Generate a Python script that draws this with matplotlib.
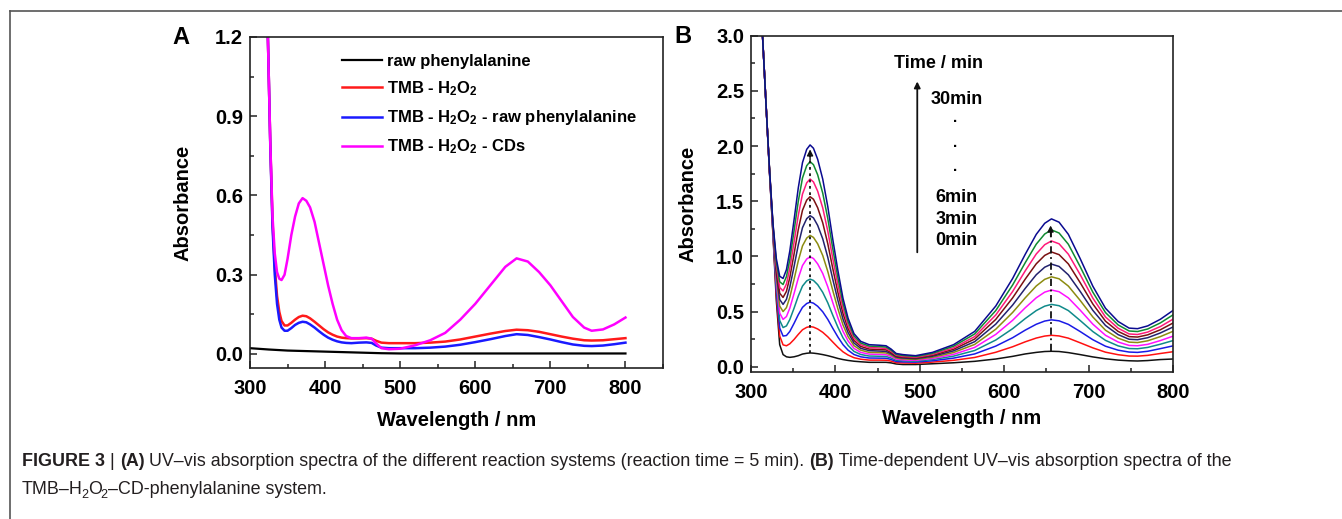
import matplotlib
matplotlib.use("Agg")
import matplotlib.pyplot as plt
from matplotlib.ticker import MultipleLocator, FormatStrFormatter
from matplotlib.lines import Line2D

# ---------------- data : panel A ----------------
WL_A = [323, 325, 327, 330, 333, 336, 339, 342, 346, 350, 355, 360, 365, 370, 375, 380,
        386, 392, 398, 404, 410, 416, 422, 428, 435, 445, 455, 462, 468, 475, 485, 500,
        520, 540, 560, 580, 600, 620, 640, 655, 670, 685, 700, 715, 730, 745, 755, 770,
        785, 800]
A_TMB_H2O2 = [1.3, 1.05, 0.80, 0.50, 0.33, 0.22, 0.16, 0.125, 0.108, 0.108, 0.118, 0.13,
              0.14, 0.145, 0.143, 0.135, 0.122, 0.108, 0.094, 0.082, 0.073, 0.066, 0.062,
              0.06, 0.059, 0.059, 0.06, 0.058, 0.05, 0.043, 0.041, 0.041, 0.041, 0.043,
              0.047, 0.055, 0.066, 0.077, 0.087, 0.092, 0.09, 0.084, 0.075, 0.066, 0.058,
              0.052, 0.051, 0.052, 0.056, 0.06]
A_TMB_H2O2_RAW = [1.3, 1.05, 0.79, 0.48, 0.30, 0.19, 0.13, 0.10, 0.088, 0.088, 0.098, 0.11,
                  0.118, 0.122, 0.12, 0.112, 0.10, 0.086, 0.073, 0.062, 0.054, 0.048, 0.044,
                  0.042, 0.041, 0.043, 0.044, 0.042, 0.032, 0.024, 0.022, 0.022, 0.022,
                  0.024, 0.028, 0.035, 0.045, 0.056, 0.068, 0.075, 0.072, 0.064, 0.055,
                  0.045, 0.036, 0.031, 0.03, 0.032, 0.037, 0.043]
A_TMB_H2O2_CDS = [1.3, 1.05, 0.80, 0.52, 0.38, 0.31, 0.285, 0.28, 0.30, 0.36, 0.45, 0.52,
                  0.57, 0.59, 0.58, 0.555, 0.50, 0.42, 0.34, 0.26, 0.19, 0.13, 0.09, 0.068,
                  0.06, 0.06, 0.062, 0.058, 0.04, 0.022, 0.018, 0.02, 0.033, 0.052, 0.08,
                  0.13, 0.19, 0.26, 0.33, 0.362, 0.35, 0.31, 0.26, 0.20, 0.14, 0.10, 0.088,
                  0.093, 0.112, 0.138]
WL_A_RAW = [300, 325, 350, 375, 400, 425, 450, 475, 500, 550, 600, 650, 700, 750, 800]
A_RAW = [0.022, 0.017, 0.013, 0.011, 0.009, 0.007, 0.005, 0.003, 0.002, 0.002, 0.002,
         0.002, 0.002, 0.002, 0.002]
LEGEND_A = ["raw phenylalanine", "TMB - H$_2$O$_2$",
            "TMB - H$_2$O$_2$ - raw phenylalanine", "TMB - H$_2$O$_2$ - CDs"]

# ---------------- data : panel B (0 min ... 30 min) ----------------
WL_B = [313, 318, 322, 326, 330, 334, 338, 342, 346, 351, 356, 361, 366, 370, 374, 379,
        385, 391, 397, 403, 409, 415, 422, 430, 440, 452, 460, 466, 472, 480, 495, 515,
        540, 565, 590, 610, 625, 638, 648, 656, 665, 676, 690, 705, 720, 735, 748, 758,
        770, 785, 800]
B_T0 = [3.1, 2.35, 1.75, 1.2, 0.6, 0.2, 0.11, 0.09, 0.085, 0.09, 0.10, 0.115, 0.122, 0.125,
        0.123, 0.118, 0.11, 0.10, 0.088, 0.075, 0.065, 0.057, 0.05, 0.045, 0.04, 0.04, 0.04,
        0.035, 0.025, 0.02, 0.02, 0.027, 0.036, 0.049, 0.070, 0.094, 0.116, 0.130, 0.138,
        0.14, 0.138, 0.128, 0.110, 0.089, 0.072, 0.060, 0.054, 0.052, 0.056, 0.065, 0.07]
B_T1 = [3.1, 2.35, 1.754, 1.213, 0.648, 0.279, 0.198, 0.190, 0.208, 0.247, 0.293, 0.335,
        0.357, 0.364, 0.359, 0.342, 0.312, 0.271, 0.223, 0.176, 0.135, 0.106, 0.082, 0.068,
        0.060, 0.060, 0.059, 0.051, 0.037, 0.034, 0.032, 0.042, 0.058, 0.084, 0.131, 0.181,
        0.226, 0.260, 0.278, 0.285, 0.279, 0.259, 0.217, 0.171, 0.132, 0.109, 0.097, 0.096,
        0.103, 0.120, 0.136]
B_T2 = [3.1, 2.35, 1.757, 1.224, 0.693, 0.351, 0.278, 0.283, 0.320, 0.393, 0.471, 0.538,
        0.573, 0.585, 0.576, 0.548, 0.498, 0.429, 0.347, 0.269, 0.200, 0.150, 0.111, 0.090,
        0.079, 0.078, 0.077, 0.066, 0.048, 0.044, 0.042, 0.054, 0.078, 0.116, 0.187, 0.263,
        0.332, 0.385, 0.414, 0.425, 0.416, 0.384, 0.319, 0.245, 0.186, 0.150, 0.133, 0.130,
        0.140, 0.164, 0.189]
B_T3 = [3.1, 2.35, 1.761, 1.236, 0.735, 0.420, 0.355, 0.370, 0.428, 0.530, 0.640, 0.731,
        0.778, 0.794, 0.782, 0.744, 0.674, 0.579, 0.465, 0.357, 0.262, 0.193, 0.139, 0.111,
        0.097, 0.095, 0.093, 0.079, 0.059, 0.054, 0.050, 0.065, 0.096, 0.147, 0.242, 0.345,
        0.437, 0.509, 0.549, 0.565, 0.553, 0.509, 0.419, 0.319, 0.239, 0.189, 0.165, 0.163,
        0.175, 0.204, 0.237]
B_T4 = [3.1, 2.35, 1.764, 1.246, 0.776, 0.486, 0.429, 0.455, 0.531, 0.663, 0.802, 0.917,
        0.976, 0.996, 0.981, 0.932, 0.845, 0.724, 0.579, 0.442, 0.321, 0.234, 0.166, 0.130,
        0.114, 0.112, 0.109, 0.093, 0.069, 0.062, 0.058, 0.075, 0.112, 0.175, 0.293, 0.421,
        0.535, 0.625, 0.676, 0.695, 0.680, 0.624, 0.513, 0.386, 0.285, 0.224, 0.193, 0.190,
        0.203, 0.237, 0.277]
B_T5 = [3.1, 2.35, 1.767, 1.257, 0.815, 0.550, 0.500, 0.536, 0.630, 0.791, 0.959, 1.095,
        1.166, 1.190, 1.172, 1.114, 1.008, 0.863, 0.688, 0.524, 0.379, 0.273, 0.191, 0.150,
        0.130, 0.128, 0.125, 0.106, 0.079, 0.071, 0.066, 0.085, 0.129, 0.202, 0.340, 0.492,
        0.625, 0.732, 0.792, 0.815, 0.797, 0.731, 0.601, 0.451, 0.331, 0.259, 0.223, 0.219,
        0.235, 0.273, 0.321]
B_T6 = [3.1, 2.35, 1.770, 1.266, 0.851, 0.609, 0.565, 0.611, 0.722, 0.908, 1.103, 1.260,
        1.342, 1.369, 1.349, 1.281, 1.159, 0.991, 0.789, 0.600, 0.431, 0.310, 0.215, 0.167,
        0.146, 0.142, 0.139, 0.118, 0.088, 0.079, 0.073, 0.095, 0.144, 0.227, 0.386, 0.559,
        0.711, 0.834, 0.902, 0.930, 0.909, 0.833, 0.683, 0.511, 0.374, 0.291, 0.249, 0.245,
        0.263, 0.306, 0.360]
B_T7 = [3.1, 2.35, 1.773, 1.275, 0.885, 0.666, 0.628, 0.683, 0.810, 1.021, 1.242, 1.418,
        1.510, 1.541, 1.518, 1.441, 1.304, 1.114, 0.886, 0.672, 0.482, 0.345, 0.238, 0.184,
        0.160, 0.156, 0.153, 0.129, 0.096, 0.087, 0.079, 0.104, 0.158, 0.251, 0.429, 0.624,
        0.795, 0.933, 1.009, 1.040, 1.016, 0.932, 0.762, 0.569, 0.413, 0.320, 0.273, 0.269,
        0.289, 0.335, 0.396]
B_T8 = [3.1, 2.35, 1.775, 1.284, 0.918, 0.718, 0.687, 0.750, 0.892, 1.127, 1.371, 1.565,
        1.667, 1.701, 1.675, 1.591, 1.439, 1.229, 0.976, 0.740, 0.529, 0.377, 0.259, 0.200,
        0.174, 0.170, 0.165, 0.140, 0.104, 0.094, 0.086, 0.112, 0.171, 0.273, 0.469, 0.682,
        0.870, 1.022, 1.106, 1.140, 1.114, 1.020, 0.835, 0.622, 0.451, 0.349, 0.297, 0.292,
        0.314, 0.364, 0.431]
B_T9 = [3.1, 2.35, 1.778, 1.292, 0.950, 0.770, 0.745, 0.817, 0.973, 1.231, 1.498, 1.711,
        1.822, 1.859, 1.831, 1.739, 1.573, 1.342, 1.065, 0.806, 0.576, 0.409, 0.280, 0.215,
        0.187, 0.183, 0.178, 0.150, 0.112, 0.102, 0.093, 0.121, 0.186, 0.297, 0.509, 0.741,
        0.944, 1.111, 1.203, 1.240, 1.212, 1.110, 0.907, 0.676, 0.491, 0.379, 0.324, 0.319,
        0.342, 0.397, 0.470]
B_T10 = [3.1, 2.35, 1.78, 1.3, 0.98, 0.82, 0.80, 0.88, 1.05, 1.33, 1.62, 1.85, 1.97, 2.01,
         1.98, 1.88, 1.70, 1.45, 1.15, 0.87, 0.62, 0.44, 0.30, 0.23, 0.20, 0.195, 0.19, 0.16,
         0.12, 0.11, 0.10, 0.13, 0.20, 0.32, 0.55, 0.80, 1.02, 1.20, 1.30, 1.34, 1.31, 1.20,
         0.98, 0.73, 0.53, 0.41, 0.35, 0.345, 0.37, 0.43, 0.51]
B_SERIES = [B_T0, B_T1, B_T2, B_T3, B_T4, B_T5, B_T6, B_T7, B_T8, B_T9, B_T10]
B_COLORS = ["#111111", "#ff1010", "#1a1ae6", "#0f8a8a", "#ff10ff", "#8c8c10",
            "#22226e", "#7a1010", "#ff1a7a", "#108a30", "#0a0a90"]
PEAK_WL = [370, 655]
PEAK_LOW = [0.12, 0.14]
PEAK_HIGH = [1.97, 1.28]
TIME_LABELS = ["30min", "6min", "3min", "0min"]

# ---------------- style ----------------
plt.rcParams.update({
    "font.family": ["Liberation Sans", "DejaVu Sans"],
    "font.weight": "bold",
    "mathtext.fontset": "custom",
    "mathtext.rm": "Liberation Sans:bold",
    "mathtext.it": "Liberation Sans:bold:italic",
    "mathtext.bf": "Liberation Sans:bold",
    "axes.linewidth": 1.2,
    "axes.edgecolor": "#222222",
})

W, H = 1342, 519
fig = plt.figure(figsize=(W / 100, H / 100), dpi=100)
axA = fig.add_axes([250 / W, 1 - 368 / H, 413 / W, 331 / H])
axB = fig.add_axes([751 / W, 1 - 371.7 / H, 422 / W, 336 / H])

TICK_FS = 14.5
LAB_FS = 14.5


def style_axis(ax):
    ax.tick_params(which="both", direction="in", top=False, right=False,
                   labelsize=TICK_FS, width=1.1, color="#222222")
    ax.tick_params(which="major", length=5)
    ax.tick_params(which="minor", length=3)
    ax.tick_params(axis="x", pad=8)
    ax.tick_params(axis="y", pad=5)
    for lab in ax.get_xticklabels() + ax.get_yticklabels():
        lab.set_fontweight("bold")


# ---------------- panel A ----------------
axA.plot(WL_A_RAW, A_RAW, color="#000000", lw=1.6, label=LEGEND_A[0])
axA.plot(WL_A, A_TMB_H2O2, color="#ff1a1a", lw=1.8, label=LEGEND_A[1])
axA.plot(WL_A, A_TMB_H2O2_RAW, color="#1a1aff", lw=1.8, label=LEGEND_A[2])
axA.plot(WL_A, A_TMB_H2O2_CDS, color="#ff00ff", lw=1.8, label=LEGEND_A[3])
axA.set_xlim(300, 850)
axA.set_ylim(-0.053, 1.2)
axA.xaxis.set_major_locator(MultipleLocator(100))
axA.xaxis.set_minor_locator(MultipleLocator(50))
axA.yaxis.set_major_locator(MultipleLocator(0.3))
axA.yaxis.set_minor_locator(MultipleLocator(0.15))
axA.yaxis.set_major_formatter(FormatStrFormatter("%.1f"))
axA.set_xticks([300, 400, 500, 600, 700, 800])
style_axis(axA)
axA.set_xlabel("Wavelength / nm", fontsize=LAB_FS, fontweight="bold")
axA.set_ylabel("Absorbance", fontsize=LAB_FS, fontweight="bold")
axA.xaxis.label.set_va("center")
axA.yaxis.label.set_va("center")
axA.xaxis.set_label_coords(0.5, -(420 - 368) / 331)
axA.yaxis.set_label_coords(-(250 - 183) / 413, 0.5)
axA.legend(loc="upper left", bbox_to_anchor=((341.7 - 250) / 413, (368 - 54) / 331),
           frameon=False, borderaxespad=0, borderpad=0,
           handlelength=2.4, handletextpad=0.3, labelspacing=0.62,
           prop={"weight": "bold", "size": 12})

# ---------------- panel B ----------------
for ys, c in zip(B_SERIES, B_COLORS):
    axB.plot(WL_B, ys, color=c, lw=1.1)
axB.set_xlim(300, 800)
axB.set_ylim(-0.045, 3.0)
axB.xaxis.set_major_locator(MultipleLocator(100))
axB.xaxis.set_minor_locator(MultipleLocator(50))
axB.yaxis.set_major_locator(MultipleLocator(0.5))
axB.yaxis.set_minor_locator(MultipleLocator(0.25))
axB.yaxis.set_major_formatter(FormatStrFormatter("%.1f"))
style_axis(axB)
axB.set_xlabel("Wavelength / nm", fontsize=LAB_FS, fontweight="bold")
axB.set_ylabel("Absorbance", fontsize=LAB_FS, fontweight="bold")
axB.xaxis.label.set_va("center")
axB.yaxis.label.set_va("center")
axB.xaxis.set_label_coords(0.5, -(418 - 371.7) / 336)
axB.yaxis.set_label_coords(-(751 - 688) / 422, 0.5)

# dashed peak-tracking arrows
styles = [(0, (1.5, 2.0)), (0, (4, 2, 1, 2))]
for wl, lo, hi, ls in zip(PEAK_WL, PEAK_LOW, PEAK_HIGH, styles):
    axB.plot([wl, wl], [lo, hi - 0.05], color="#111111", lw=1.3, linestyle=ls)
    axB.annotate("", xy=(wl, hi), xytext=(wl, hi - 0.1),
                 arrowprops=dict(arrowstyle="-|>", color="#111111", lw=1.0,
                                 mutation_scale=9, shrinkA=0, shrinkB=0))

# time arrow and labels
axB.annotate("", xy=(497, 2.585), xytext=(497, 1.037),
             arrowprops=dict(arrowstyle="-|>", color="#111111", lw=1.3,
                             mutation_scale=9, shrinkA=0, shrinkB=0))
axB.text(521.6, 2.75, "Time / min", fontsize=13, fontweight="bold",
         ha="center", va="center")
for lab, yv in zip(TIME_LABELS, [2.418, 1.536, 1.336, 1.142]):
    axB.text(543.5, yv, lab, fontsize=13, fontweight="bold", ha="center", va="center")
for yv in [2.216, 1.995, 1.774]:
    axB.text(542, yv, "\u00b7", fontsize=11, fontweight="bold", ha="center", va="center")

# panel letters
fig.text(181 / W, 1 - 37.5 / H, "A", fontsize=17, fontweight="bold", ha="center", va="center")
fig.text(683 / W, 1 - 36.7 / H, "B", fontsize=17, fontweight="bold", ha="center", va="center")

# frame lines (page box)
fig.add_artist(Line2D([9.5 / W, 1.0], [1 - 10.5 / H, 1 - 10.5 / H], color="#555555", lw=1.2))
fig.add_artist(Line2D([9.5 / W, 9.5 / W], [0.0, 1 - 10.5 / H], color="#555555", lw=1.2))

# ---------------- caption ----------------
renderer = fig.canvas.get_renderer()
CAP_FS = 12.85
CAP_COL = "#231f20"


def text_adv(s, size, weight):
    t1 = fig.text(0, 0, s + "|", fontsize=size, fontweight=weight)
    t2 = fig.text(0, 0, "|", fontsize=size, fontweight=weight)
    w = t1.get_window_extent(renderer).width - t2.get_window_extent(renderer).width
    t1.remove()
    t2.remove()
    return w


def caption_line(x, ybase, parts):
    for s, weight, size, dy, dx in parts:
        x += dx
        fig.text(x / W, 1 - (ybase + dy) / H, s, fontsize=size, fontweight=weight,
                 color=CAP_COL, ha="left", va="baseline")
        x += text_adv(s, size, weight)


caption_line(22, 466, [
    ("FIGURE 3 ", "bold", CAP_FS, 0, 0),
    ("| ", "normal", CAP_FS, 0, 0),
    ("(A)", "bold", CAP_FS, 0, 0),
    (" UV\u2013vis absorption spectra of the different reaction systems (reaction time = 5 min). ",
     "normal", CAP_FS, 0, 0),
    ("(B)", "bold", CAP_FS, 0, 0),
    (" Time-dependent UV\u2013vis absorption spectra of the", "normal", CAP_FS, 0, 0),
])
caption_line(22, 494, [
    ("TMB\u2013H", "normal", CAP_FS, 0, 0),
    ("2", "normal", CAP_FS * 0.7, 3.5, -1.5),
    ("O", "normal", CAP_FS, 0, -0.5),
    ("2", "normal", CAP_FS * 0.7, 3.5, -1.0),
    ("\u2013CD-phenylalanine system.", "normal", CAP_FS, 0, 0),
])

fig.savefig("out.png", dpi=100)
